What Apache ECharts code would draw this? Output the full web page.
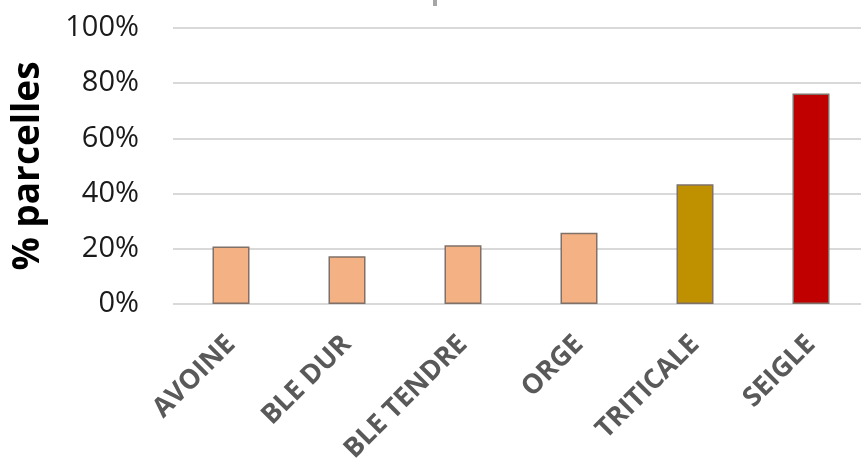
<!DOCTYPE html>
<html>
<head>
<meta charset="utf-8">
<script src="https://cdn.jsdelivr.net/npm/echarts@6/dist/echarts.min.js"></script>
<style>
  html, body { margin: 0; padding: 0; background: #ffffff; }
  #chart { width: 861px; height: 471px; }
</style>
</head>
<body>
<div id="chart"></div>
<script>
// Share of plots per cereal crop
var categories = ['AVOINE', 'BLE DUR', 'BLE TENDRE', 'ORGE', 'TRITICALE', 'SEIGLE'];
var values = [20.8, 17.3, 21.3, 25.8, 43.4, 76.3];
var barColors = ['#F4B183', '#F4B183', '#F4B183', '#F4B183', '#BF9000', '#C00000'];
var yTicks = [0, 20, 40, 60, 80, 100];

var chart = echarts.init(document.getElementById('chart'), null, { renderer: 'canvas' });

chart.setOption({
  animation: false,
  backgroundColor: '#ffffff',
  grid: { left: 173, top: 28, width: 696, height: 276, containLabel: false, outerBoundsMode: 'none' },
  xAxis: {
    type: 'category',
    data: categories,
    axisLine: { show: false },
    axisTick: { show: false },
    axisLabel: {
      rotate: 45,
      interval: 0,
      margin: 36,
      color: '#595959',
      fontFamily: 'Open Sans',
      fontWeight: 'bold',
      fontSize: 27
    }
  },
  yAxis: {
    type: 'value',
    min: yTicks[0],
    max: yTicks[yTicks.length - 1],
    interval: 20,
    name: '% parcelles',
    nameLocation: 'middle',
    nameGap: 126,
    nameRotate: 90,
    nameTextStyle: {
      color: '#000000',
      fontFamily: 'Open Sans',
      fontWeight: 'bold',
      fontSize: 37
    },
    axisLine: { show: false },
    axisTick: { show: false },
    axisLabel: {
      margin: 34,
      color: '#1a1a1a',
      fontFamily: 'Open Sans',
      fontSize: 29,
      formatter: function (v) { return v + '%'; }
    },
    splitLine: { lineStyle: { color: '#d9d9d9', width: 2 } }
  },
  series: [{
    type: 'bar',
    barWidth: 37,
    data: values.map(function (v, i) {
      return {
        value: v,
        itemStyle: { color: barColors[i], borderColor: '#7f7068', borderWidth: 1.5 }
      };
    })
  }],
  graphic: [{
    type: 'rect',
    shape: { x: 433, y: 0, width: 4, height: 6 },
    style: { fill: '#a6a6a6' }
  }]
});
</script>
</body>
</html>
